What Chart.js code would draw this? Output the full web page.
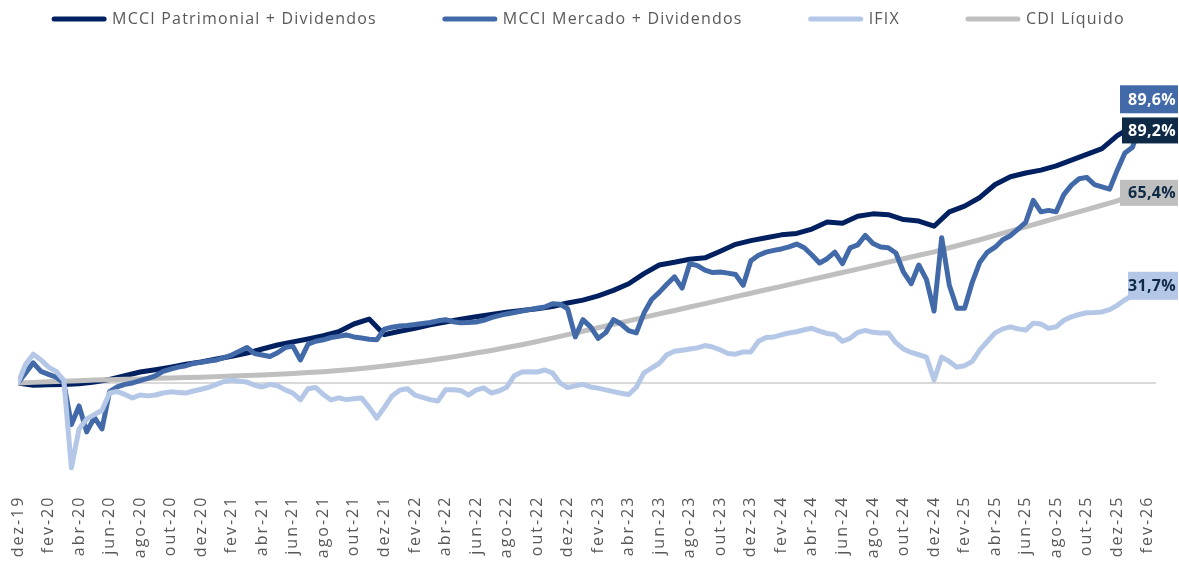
<!DOCTYPE html>
<html lang="pt-BR">
<head>
<meta charset="UTF-8">
<title>MCCI x IFIX x CDI</title>
<script src="https://cdn.jsdelivr.net/npm/chart.js@4"></script>
<style>
  html, body { margin: 0; padding: 0; background: #fff; }
</style>
</head>
<body>
<canvas id="chart" width="1179" height="569"></canvas>

<script>
// eixo x: meses contados a partir de dez-19
const tickLabels = [
  'dez-19', 'fev-20', 'abr-20', 'jun-20', 'ago-20', 'out-20',
  'dez-20', 'fev-21', 'abr-21', 'jun-21', 'ago-21', 'out-21',
  'dez-21', 'fev-22', 'abr-22', 'jun-22', 'ago-22', 'out-22',
  'dez-22', 'fev-23', 'abr-23', 'jun-23', 'ago-23', 'out-23',
  'dez-23', 'fev-24', 'abr-24', 'jun-24', 'ago-24', 'out-24',
  'dez-24', 'fev-25', 'abr-25', 'jun-25', 'ago-25', 'out-25',
  'dez-25', 'fev-26'
];
const months = Array.from({length: 74}, (_, i) => i);          // mensal
const halfMonths = Array.from({length: 148}, (_, i) => i / 2); // quinzenal

const seriesNames = ['MCCI Patrimonial + Dividendos', 'MCCI Mercado + Dividendos', 'IFIX', 'CDI Líquido'];

// retorno acumulado (%), mensal
const patrimonial = [
  0, -0.8, -0.6, -0.5, -0.3, 0.3, 1.2, 2.5, 3.8, 4.6,
  5.5, 6.5, 7.3, 8.3, 9.3, 10.4, 11.8, 13.2, 14.3, 15.3,
  16.4, 17.8, 20.5, 22.2, 16.8, 18, 19, 20.2, 21.2, 22.2,
  23, 23.8, 24.6, 25.2, 25.8, 26.6, 27.8, 28.8, 30.3, 32.2,
  34.5, 38, 41, 42, 43, 43.5, 45.8, 48.2, 49.5, 50.5,
  51.5, 52, 53.5, 56, 55.5, 58, 58.8, 58.5, 56.8, 56.3,
  54.5, 59.5, 61.5, 64.5, 69, 71.7, 73, 74, 75.5, 77.5,
  79.5, 81.5, 86, 89.2
];
const cdi = [
  0, 0.2, 0.4, 0.6, 0.8, 1.0, 1.1, 1.3, 1.4, 1.6,
  1.7, 1.9, 2.0, 2.2, 2.4, 2.6, 2.8, 3.0, 3.3, 3.6,
  3.9, 4.3, 4.8, 5.3, 5.9, 6.5, 7.2, 7.9, 8.7, 9.5,
  10.4, 11.3, 12.3, 13.3, 14.4, 15.6, 16.8, 18.0, 19.2, 20.4,
  21.6, 22.8, 24.0, 25.2, 26.4, 27.6, 28.8, 30.0, 31.2, 32.4,
  33.6, 34.8, 36.0, 37.2, 38.4, 39.6, 40.8, 42.0, 43.2, 44.4,
  45.6, 47.0, 48.4, 49.8, 51.3, 52.8, 54.3, 55.8, 57.3, 58.8,
  60.3, 61.8, 63.3, 65.4
];

// retorno acumulado (%), quinzenal
const mercado = [
  0, 3.5, 7, 4, 3, 2, 0, -14.5, -8, -17,
  -12, -16, -3, -1.4, -0.5, 0, 0.8, 1.6, 2.5, 4,
  4.8, 5.5, 6, 6.8, 7.2, 7.6, 8, 8.8, 9.7, 11,
  12.3, 10.2, 9.7, 9.2, 10.5, 12.3, 12.8, 8, 13.5, 14.5,
  15, 15.8, 16.2, 16.7, 16, 15.6, 15.2, 15, 18.7, 19.4,
  19.8, 20, 20.3, 20.7, 21, 21.6, 22, 21.3, 20.9, 21,
  21.2, 21.8, 22.7, 23.4, 24, 24.5, 25, 25.5, 26, 26.4,
  27.5, 27.4, 25.8, 16, 22, 19.5, 15.5, 17.5, 22, 20.5,
  18.2, 17.4, 24.3, 29, 31.5, 34.3, 36.9, 33, 41.5, 40.8,
  39.2, 38.4, 38.6, 38.2, 37.7, 34, 42.5, 44.4, 45.5, 46.1,
  46.6, 47.3, 48.3, 47, 44.5, 41.7, 43.2, 45.5, 41.5, 47,
  48, 51.3, 48.5, 47.3, 47, 45.2, 38.5, 34.5, 41, 36,
  25, 50.5, 34, 26, 26, 35, 42, 45.5, 47.2, 49.8,
  51.2, 53.5, 55.8, 63.5, 59.5, 60, 59.5, 65.5, 68.8, 71,
  71.5, 69, 68.2, 67.4, 74, 80, 82, 89.6
];
const ifix = [
  0, 6.5, 10, 8, 5.5, 4, 1, -29.5, -16, -12.5,
  -11, -9.5, -3.5, -3, -4, -5.2, -4.2, -4.5, -4.2, -3.5,
  -3.1, -3.3, -3.5, -2.8, -2.2, -1.5, -0.5, 0.5, 1, 0.6,
  0.3, -0.8, -1.4, -0.5, -1, -2.4, -3.5, -5.9, -2, -1.6,
  -4, -5.9, -5.2, -5.8, -5.5, -5.2, -8.5, -12.2, -8.5, -4.5,
  -2.5, -2, -4.2, -5, -5.8, -6.3, -2.4, -2.4, -2.6, -4.2,
  -2.5, -1.7, -3.5, -2.8, -1.5, 2.5, 3.8, 3.9, 3.8, 4.5,
  3.5, 0, -1.6, -1, -0.5, -1.4, -1.8, -2.4, -3, -3.6,
  -4, -1.5, 3.5, 5.2, 6.8, 9.8, 11, 11.4, 11.8, 12.2,
  13, 12.5, 11.5, 10.2, 10, 10.8, 10.8, 14.5, 15.8, 16,
  16.7, 17.4, 17.8, 18.5, 19, 18, 17.2, 16.8, 14.5, 15.5,
  17.6, 18.3, 17.6, 17.4, 17.4, 14, 11.8, 10.6, 9.8, 9,
  1, 9, 7.5, 5.5, 6, 7.5, 11.5, 14.5, 17.4, 18.8,
  19.5, 18.8, 18.4, 20.8, 20.5, 19, 19.5, 21.8, 23, 23.8,
  24.4, 24.5, 24.7, 25.5, 27, 28.9, 30.5, 31.7
];

const colors = ['#002060', '#426aa8', '#b4c7e7', '#bfbfbf'];
const FONT = '"Open Sans", "Noto Sans", sans-serif';

function toPoints(xs, ys) {
  return ys.map((v, i) => ({x: xs[i], y: v}));
}

function pct(v) {
  return v.toFixed(1).replace('.', ',') + '%';
}

// espaçamento das letras dos rótulos do eixo x
const tickSpacing = {
  id: 'tickSpacing',
  beforeDraw(chart) { chart.ctx.letterSpacing = '2px'; },
  beforeDatasetsDraw(chart) { chart.ctx.letterSpacing = '0px'; }
};

// linha do zero
const zeroLine = {
  id: 'zeroLine',
  beforeDatasetsDraw(chart) {
    const {ctx, chartArea, scales} = chart;
    const y = scales.y.getPixelForValue(0);
    ctx.save();
    ctx.strokeStyle = '#d9d9d9';
    ctx.lineWidth = 2;
    ctx.beginPath();
    ctx.moveTo(chartArea.left, y);
    ctx.lineTo(chartArea.right + 8, y);
    ctx.stroke();
    ctx.restore();
  }
};

// legenda no topo
const topLegend = {
  id: 'topLegend',
  afterDraw(chart) {
    const ctx = chart.ctx;
    const lineW = 50, textGap = 8, itemGap = 68, y = 19;
    ctx.save();
    ctx.font = '16px ' + FONT;
    ctx.letterSpacing = '1.2px';
    const widths = seriesNames.map(n => lineW + textGap + ctx.measureText(n).width);
    const total = widths.reduce((a, b) => a + b, 0) + itemGap * (widths.length - 1);
    let x = (chart.width - total) / 2;
    seriesNames.forEach((name, i) => {
      ctx.strokeStyle = colors[i];
      ctx.lineWidth = 5;
      ctx.lineCap = 'round';
      ctx.beginPath();
      ctx.moveTo(x, y);
      ctx.lineTo(x + lineW, y);
      ctx.stroke();
      ctx.fillStyle = '#595959';
      ctx.textBaseline = 'middle';
      ctx.fillText(name, x + lineW + textGap, y);
      x += widths[i] + itemGap;
    });
    ctx.restore();
  }
};

// rótulos do último valor
const endBoxes = [
  {ds: 1, bg: '#426aa8', fg: '#ffffff', dy: -26, w: 58, h: 28},
  {ds: 0, bg: '#0e2a47', fg: '#ffffff', dy: 4, w: 56, h: 26},
  {ds: 3, bg: '#bfbfbf', fg: '#0e2a47', dy: -2, w: 58, h: 26},
  {ds: 2, bg: '#b4c7e7', fg: '#0e2a47', dy: -6, w: 50, h: 28}
];
const endLabels = {
  id: 'endLabels',
  afterDatasetsDraw(chart) {
    const {ctx, scales} = chart;
    const right = chart.width - 1;
    ctx.save();
    ctx.font = 'bold 16px ' + FONT;
    ctx.letterSpacing = '0.3px';
    ctx.textAlign = 'right';
    ctx.textBaseline = 'middle';
    endBoxes.forEach(b => {
      const data = chart.data.datasets[b.ds].data;
      const last = data[data.length - 1].y;
      const cy = scales.y.getPixelForValue(last) + b.dy;
      ctx.fillStyle = b.bg;
      ctx.fillRect(right - b.w, cy - b.h / 2, b.w, b.h);
      ctx.fillStyle = b.fg;
      ctx.fillText(pct(last), right - 2, cy + 1);
    });
    ctx.restore();
  }
};

new Chart(document.getElementById('chart'), {
  type: 'line',
  data: {
    datasets: [
      {label: seriesNames[0], data: toPoints(months, patrimonial), borderColor: colors[0], order: 4},
      {label: seriesNames[1], data: toPoints(halfMonths, mercado), borderColor: colors[1], order: 2},
      {label: seriesNames[2], data: toPoints(halfMonths, ifix), borderColor: colors[2], order: 1},
      {label: seriesNames[3], data: toPoints(months, cdi), borderColor: colors[3], order: 3}
    ]
  },
  options: {
    responsive: false,
    animation: false,
    layout: {padding: {top: 81, left: 18, right: 26, bottom: 0}},
    elements: {
      line: {borderWidth: 5, tension: 0, borderCapStyle: 'round', borderJoinStyle: 'round', fill: false},
      point: {radius: 0, hoverRadius: 0}
    },
    plugins: {
      legend: {display: false},
      tooltip: {enabled: false}
    },
    scales: {
      x: {
        type: 'linear',
        min: 0,
        max: 74,
        grid: {display: false, drawTicks: false},
        border: {display: false},
        afterFit(scale) { scale.height = 85.4; },
        ticks: {
          stepSize: 2,
          autoSkip: false,
          minRotation: 90,
          maxRotation: 90,
          padding: 12,
          color: '#595959',
          font: {family: FONT, size: 16},
          callback: (v) => tickLabels[v / 2]
        }
      },
      y: {
        display: false,
        min: -35,
        max: 105
      }
    }
  },
  plugins: [tickSpacing, zeroLine, topLegend, endLabels]
});
</script>
</body>
</html>
